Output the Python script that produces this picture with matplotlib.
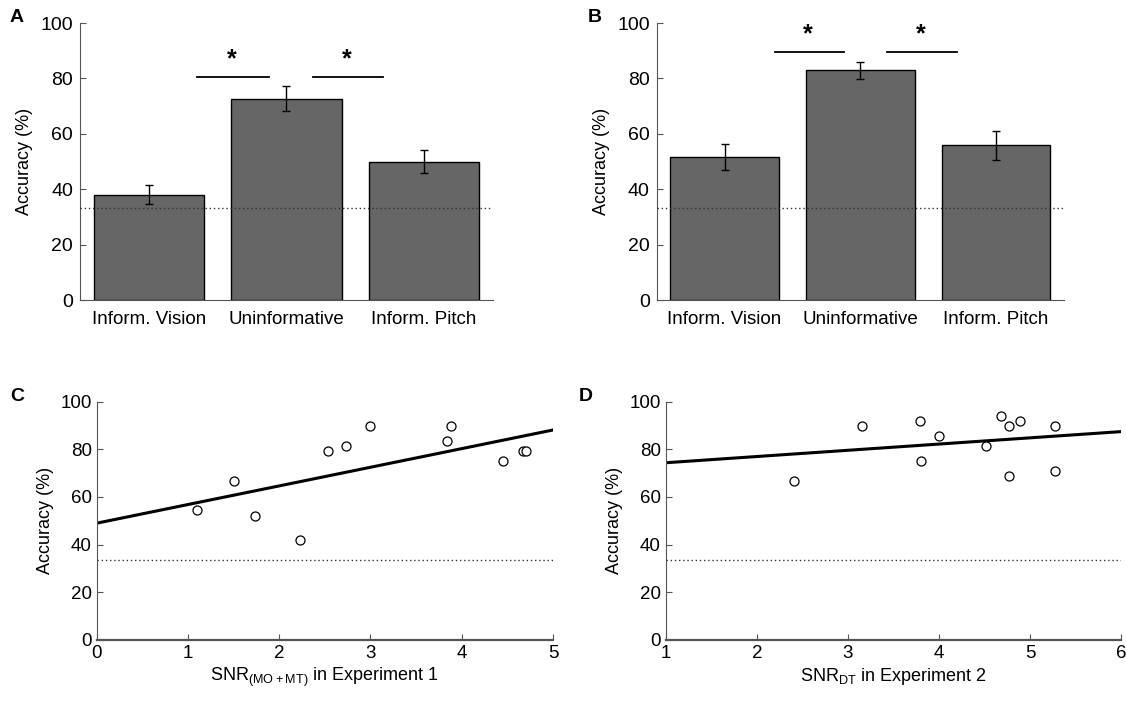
import numpy as np
import matplotlib
matplotlib.use('Agg')
import matplotlib.pyplot as plt

plt.rcParams.update({
    'font.family': ['Liberation Sans', 'DejaVu Sans'],
    'font.size': 12,
    })

# ---- data ----
conditions = ['Inform. Vision', 'Uninformative', 'Inform. Pitch']
acc_exp1 = [38.0, 72.7, 50.0]
err_exp1 = [3.5, 4.4, 4.3]
acc_exp2 = [51.7, 82.9, 55.8]
err_exp2 = [4.7, 3.0, 5.4]
chance = 33.3

# significance bars: (x start, x end, y)
sig_exp1 = [(1.35, 1.87, 80.6), (2.19, 2.70, 80.6)]
sig_exp2 = [(1.37, 1.88, 89.5), (2.20, 2.71, 89.5)]

snr_exp1 = [1.10, 1.50, 1.73, 2.23, 2.53, 2.73, 3.00, 3.84, 3.88, 4.45, 4.67, 4.70]
scat_acc_exp1 = [54.4, 66.8, 52.1, 41.8, 79.3, 81.5, 89.7, 83.4, 89.7, 75.2, 79.3, 79.3]
snr_exp2 = [2.41, 3.16, 3.79, 3.80, 4.00, 4.52, 4.68, 4.77, 4.77, 4.89, 5.28, 5.28]
scat_acc_exp2 = [66.7, 89.7, 91.8, 75.2, 85.6, 81.5, 94.1, 89.7, 68.9, 91.8, 89.7, 70.7]

bar_color = '#666666'
spine_color = '#555555'


def bar_panel(ax, acc, err, sig, label):
    x = np.arange(1, len(conditions) + 1)
    ax.bar(x, acc, width=0.8, color=bar_color, edgecolor='black', linewidth=1.0, zorder=2)
    ax.errorbar(x, acc, yerr=err, fmt='none', ecolor='black', elinewidth=1.0,
                capsize=3, capthick=1.0, zorder=3)
    ax.axhline(chance, color='#333333', linestyle=(0, (1, 2)), linewidth=1.0, zorder=4)
    for x0, x1, y in sig:
        ax.plot([x0, x1], [y, y], color='black', linewidth=1.3, zorder=3)
        ax.text((x0 + x1) / 2 - 0.01, y + 2.0, '*', ha='center', va='bottom',
                fontsize=18, fontweight='bold')
    ax.set_xlim(0.5, 3.5)
    ax.set_ylim(0, 100)
    ax.set_yticks(np.arange(0, 101, 20))
    ax.set_xticks(x)
    ax.set_xticklabels(conditions, fontsize=13.5)
    ax.tick_params(axis='x', length=0, pad=8)
    ax.tick_params(axis='y', direction='in', length=4, labelsize=14, color=spine_color, pad=5)
    for s in ['top', 'right']:
        ax.spines[s].set_visible(False)
    for s in ['left', 'bottom']:
        ax.spines[s].set_color(spine_color)
    ax.set_ylabel('Accuracy (%)', fontsize=13, labelpad=5)
    ax.text(-0.17, 1.02, label, transform=ax.transAxes, fontsize=14, fontweight='bold',
            ha='left', va='center')


def scatter_panel(ax, snr, acc, xlim, xlabel, label):
    narrow = ['Liberation Sans Narrow', 'Liberation Sans', 'DejaVu Sans']
    ax.plot(snr, acc, 'o', markerfacecolor='white', markeredgecolor='black',
            markersize=6.5, markeredgewidth=0.9, zorder=3)
    k, b = np.polyfit(snr, acc, 1)
    xs = np.array(xlim, dtype=float)
    ax.plot(xs, k * xs + b, color='black', linewidth=2.2, zorder=2)
    ax.axhline(chance, color='#333333', linestyle=(0, (1, 2)), linewidth=1.0, zorder=1)
    ax.set_xlim(*xlim)
    ax.set_ylim(0, 100)
    ax.set_yticks(np.arange(0, 101, 20))
    ax.set_xticks(np.arange(xlim[0], xlim[1] + 1))
    ax.tick_params(axis='both', direction='in', length=4, color=spine_color, labelsize=13.5)
    for t in ax.get_xticklabels() + ax.get_yticklabels():
        t.set_family(narrow)
    for s in ['top', 'right']:
        ax.spines[s].set_visible(False)
    for s in ['left', 'bottom']:
        ax.spines[s].set_color(spine_color)
    ax.spines['bottom'].set_linewidth(1.6)
    ax.set_xlabel(xlabel, fontsize=13, family=narrow, labelpad=3)
    ax.set_ylabel('Accuracy (%)', fontsize=13, family=narrow, labelpad=5)
    ax.text(-0.19, 1.02, label, transform=ax.transAxes, fontsize=14, fontweight='bold',
            ha='left', va='center')


fig = plt.figure(figsize=(11.26, 7.02), dpi=100)
ax_a = fig.add_axes([0.0710, 0.5726, 0.3668, 0.3946])
ax_b = fig.add_axes([0.5832, 0.5726, 0.3617, 0.3946])
ax_c = fig.add_axes([0.0859, 0.0887, 0.4052, 0.3390])
ax_d = fig.add_axes([0.5912, 0.0887, 0.4044, 0.3390])

bar_panel(ax_a, acc_exp1, err_exp1, sig_exp1, 'A')
bar_panel(ax_b, acc_exp2, err_exp2, sig_exp2, 'B')
scatter_panel(ax_c, snr_exp1, scat_acc_exp1, (0, 5),
              r'SNR$_{\mathregular{(MO+MT)}}$ in Experiment 1', 'C')
scatter_panel(ax_d, snr_exp2, scat_acc_exp2, (1, 6),
              r'SNR$_{\mathregular{DT}}$ in Experiment 2', 'D')

fig.savefig('out.png', dpi=100)
